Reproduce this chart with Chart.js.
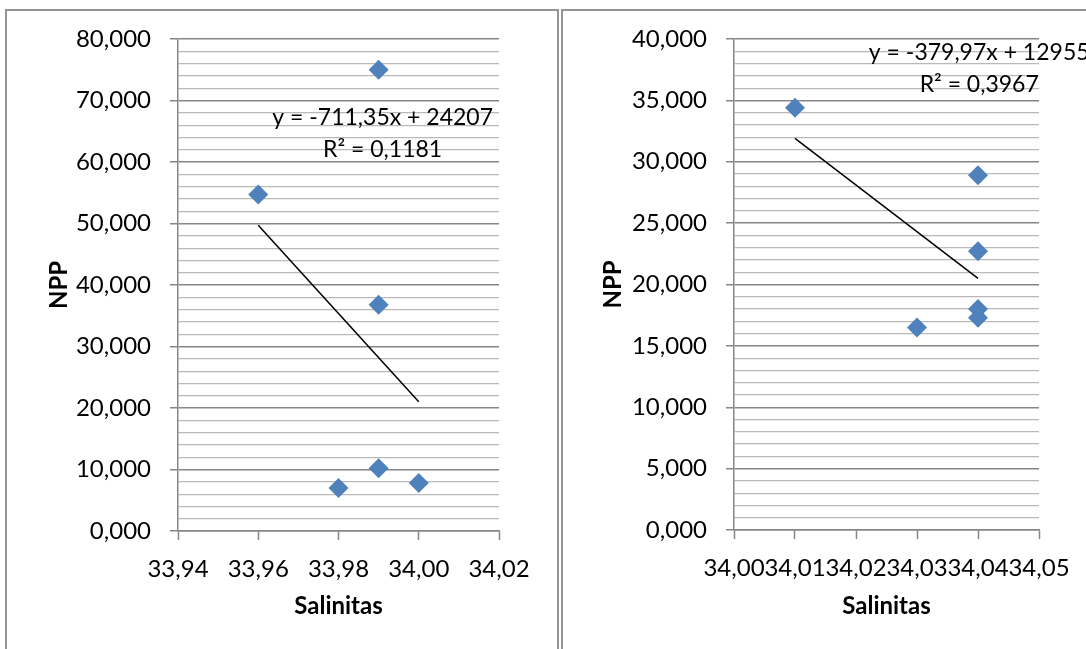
<!DOCTYPE html>
<html>
<head>
<meta charset="utf-8">
<script src="https://cdn.jsdelivr.net/npm/chart.js@4/dist/chart.umd.min.js"></script>
<style>
  html, body { margin: 0; padding: 0; background: #fff; width: 1086px; height: 649px; overflow: hidden; position: relative; }
  .box { position: absolute; border: 2px solid #939393; box-sizing: border-box; }
  canvas { position: absolute; top: 0; }
</style>
</head>
<body>
<div class="box" style="left:5px; top:9px; width:554px; height:700px;"></div>
<div class="box" style="left:561px; top:9px; width:600px; height:700px;"></div>
<canvas id="left" width="558" height="649" style="left:0px;"></canvas>
<canvas id="right" width="526" height="649" style="left:560px;"></canvas>
<script>
// ---- Data ----
const leftSalinitas = [33.96, 33.99, 33.99, 33.98, 33.99, 34.00];
const leftNPP       = [54.7, 75.0, 36.8, 7.0, 10.2, 7.8];
const leftTrendSal  = [33.96, 34.00];
const leftTrendNPP  = [49.7, 21.0];
const leftXTicks    = [33.94, 33.96, 33.98, 34.00, 34.02];
const leftXLabels   = ['33,94', '33,96', '33,98', '34,00', '34,02'];
const leftYMajor    = [0, 10, 20, 30, 40, 50, 60, 70, 80];
const leftYLabels   = ['0,000', '10,000', '20,000', '30,000', '40,000', '50,000', '60,000', '70,000', '80,000'];
const leftEquation  = ['y = -711,35x + 24207', 'R² = 0,1181'];

const rightSalinitas = [34.01, 34.04, 34.04, 34.04, 34.04, 34.03];
const rightNPP       = [34.4, 28.9, 22.7, 18.0, 17.3, 16.5];
const rightTrendSal  = [34.01, 34.04];
const rightTrendNPP  = [31.9, 20.5];
const rightXTicks    = [34.00, 34.01, 34.02, 34.03, 34.04, 34.05];
const rightXLabels   = ['34,00', '34,01', '34,02', '34,03', '34,04', '34,05'];
const rightYMajor    = [0, 5, 10, 15, 20, 25, 30, 35, 40];
const rightYLabels   = ['0,000', '5,000', '10,000', '15,000', '20,000', '25,000', '30,000', '35,000', '40,000'];
const rightEquation  = ['y = -379,97x + 12955', 'R² = 0,3967'];

const xTitle = 'Salinitas';
const yTitle = 'NPP';

// ---- Styling ----
const FONT = 'Lato, "Open Sans", sans-serif';
const MAJOR = '#868686';
const MINOR = '#b9b9b9';
const BLUE = '#4F81BD';

const zip = (xs, ys) => xs.map((x, i) => ({ x: x, y: ys[i] }));

const eqPlugin = {
  id: 'eqLabel',
  afterDatasetsDraw(chart, args, opts) {
    const ctx = chart.ctx;
    const xs = chart.scales.x, ys = chart.scales.y;
    ctx.save();
    ctx.font = '23px ' + FONT;
    ctx.fillStyle = '#000';
    ctx.textAlign = 'center';
    ctx.textBaseline = 'middle';
    opts.lines.forEach((t, i) => {
      ctx.fillText(t, xs.getPixelForValue(opts.x), ys.getPixelForValue(opts.y[i]));
    });
    ctx.restore();
  }
};

function makeChart(id, cfg) {
  return new Chart(document.getElementById(id), {
    type: 'scatter',
    data: {
      datasets: [
        {
          data: zip(cfg.sal, cfg.npp),
          backgroundColor: BLUE,
          borderColor: BLUE,
          borderWidth: 0,
          pointStyle: 'rectRot',
          pointRadius: 10,
          pointHoverRadius: 10
        },
        {
          data: zip(cfg.trendX, cfg.trendY),
          showLine: true,
          borderColor: '#000',
          borderWidth: 1.5,
          pointRadius: 0,
          pointHoverRadius: 0,
          fill: false
        }
      ]
    },
    options: {
      responsive: false,
      animation: false,
      devicePixelRatio: 1,
      events: [],
      layout: { padding: { left: 0, top: 39, right: cfg.padRight, bottom: 0 } },
      plugins: {
        legend: { display: false },
        tooltip: { enabled: false },
        eqLabel: { lines: cfg.eq, x: cfg.eqX, y: cfg.eqY }
      },
      scales: {
        x: {
          type: 'linear',
          min: cfg.xTicks[0],
          max: cfg.xTicks[cfg.xTicks.length - 1],
          afterBuildTicks: s => { s.ticks = cfg.xTicks.map(v => ({ value: v })); },
          afterFit: s => { s.height = cfg.xHeight; },
          ticks: {
            autoSkip: false,
            maxRotation: 0,
            minRotation: 0,
            padding: 15,
            color: '#000',
            font: { family: FONT, size: 24 },
            callback: (v, i) => cfg.xLabels[i]
          },
          grid: {
            drawOnChartArea: false,
            drawTicks: true,
            tickLength: 9,
            tickColor: MAJOR,
            tickWidth: 1.5,
            color: MAJOR
          },
          border: { display: true, color: MAJOR, width: 1.5 },
          title: {
            display: true,
            text: xTitle,
            color: '#000',
            font: { family: FONT, size: 24, weight: 'bold' },
            padding: { top: 28, bottom: 28 }
          }
        },
        y: {
          type: 'linear',
          min: 0,
          max: cfg.yMajor[cfg.yMajor.length - 1],
          afterFit: s => { s.width = cfg.yWidth; },
          ticks: {
            stepSize: cfg.yStep,
            autoSkip: false,
            padding: 19,
            color: '#000',
            font: { family: FONT, size: 24 },
            callback: v => {
              const k = cfg.yMajor.indexOf(v);
              return k >= 0 ? cfg.yLabels[k] : '';
            }
          },
          grid: {
            drawTicks: true,
            tickLength: 8,
            color: c => (cfg.yMajor.indexOf(c.tick.value) >= 0 ? MAJOR : MINOR),
            lineWidth: c => (cfg.yMajor.indexOf(c.tick.value) >= 0 ? 1.5 : 1.2),
            tickColor: c => (cfg.yMajor.indexOf(c.tick.value) >= 0 ? MAJOR : 'rgba(0,0,0,0)'),
            tickWidth: 1.5
          },
          border: { display: true, color: MAJOR, width: 1.5 },
          title: {
            display: true,
            text: yTitle,
            color: '#000',
            font: { family: FONT, size: 24, weight: 'bold' },
            padding: { top: cfg.yTitlePad, bottom: cfg.yTitlePad }
          }
        }
      }
    },
    plugins: [eqPlugin]
  });
}

makeChart('left', {
  sal: leftSalinitas, npp: leftNPP,
  trendX: leftTrendSal, trendY: leftTrendNPP,
  xTicks: leftXTicks, xLabels: leftXLabels,
  yMajor: leftYMajor, yLabels: leftYLabels, yStep: 2,
  eq: leftEquation, eqX: 33.991, eqY: [67.2, 62.0],
  padRight: 59, yWidth: 178, xHeight: 118, yTitlePad: 45
});

makeChart('right', {
  sal: rightSalinitas, npp: rightNPP,
  trendX: rightTrendSal, trendY: rightTrendNPP,
  xTicks: rightXTicks, xLabels: rightXLabels,
  yMajor: rightYMajor, yLabels: rightYLabels, yStep: 1,
  eq: rightEquation, eqX: 34.0402, eqY: [38.9, 36.3],
  padRight: 47, yWidth: 174, xHeight: 119, yTitlePad: 39
});
</script>
</body>
</html>
